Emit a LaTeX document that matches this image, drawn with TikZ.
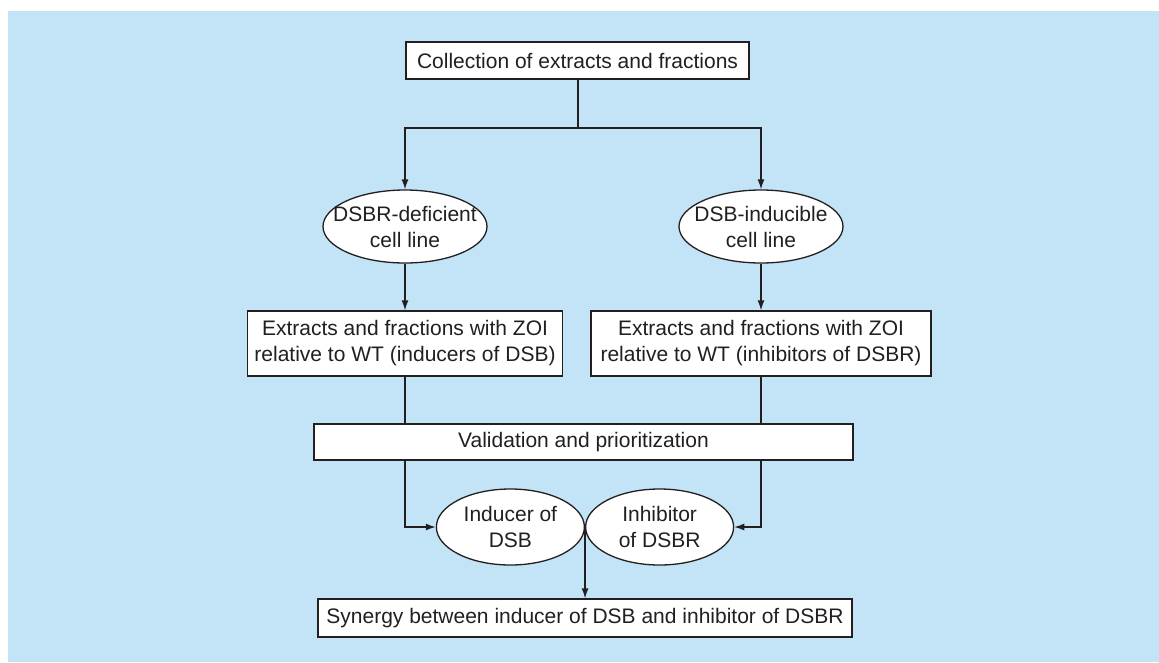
\documentclass[tikz,border=0pt]{standalone}
\usepackage{fontspec}
\setmainfont{Liberation Sans}
\usetikzlibrary{shapes.geometric,arrows.meta}
\definecolor{panelblue}{HTML}{C2E4F6}
\definecolor{inkgray}{HTML}{231F20}

\begin{document}
\begin{tikzpicture}[x=1pt,y=-1pt,
  every node/.style={font=\fontsize{21}{26}\selectfont, text=inkgray},
  box/.style={draw=inkgray, fill=white, line width=1.3pt, inner sep=0pt, align=center},
  blob/.style={ellipse, draw=inkgray, fill=white, line width=1.3pt, inner xsep=-14pt, inner ysep=2pt, align=center},
  link/.style={draw=inkgray, line width=1.3pt},
  arr/.style={link, -{Latex[length=10pt,width=7pt]}}]

  \useasboundingbox (0,0) rectangle (1159,662);
  \fill[panelblue] (8,11) rectangle (1159,662);

  % top of the chart
  \node[box, minimum width=343pt, minimum height=37pt] (collect) at (577.5,60.5) {Collection of extracts and fractions};
  \coordinate (split) at (578,128);

  % the two screens
  \node[blob, minimum width=164pt, minimum height=73pt] (deficient) at (405,226.5) {DSBR-deficient\\cell line};
  \node[blob, minimum width=164pt, minimum height=73pt] (inducible) at (761,226.5) {DSB-inducible\\cell line};

  \node[box, minimum width=315pt, minimum height=65pt] (zoiA) at (405,343.5) {Extracts and fractions with ZOI\\relative to WT (inducers of DSB)};
  \node[box, minimum width=340pt, minimum height=65pt] (zoiB) at (761,343.5) {Extracts and fractions with ZOI\\relative to WT (inhibitors of DSBR)};

  \node[box, minimum width=539pt, minimum height=36pt] (valid) at (583.5,442) {Validation and prioritization};

  % hits
  \node[blob, minimum width=148pt, minimum height=76pt] (inducer) at (510.4,527) {Inducer of\\DSB};
  \node[blob, minimum width=148pt, minimum height=76pt] (inhibitor) at (659.6,527) {Inhibitor\\of DSBR};

  \node[box, minimum width=534pt, minimum height=38pt] (synergy) at (585,618) {Synergy between inducer of DSB and inhibitor of DSBR};

  % connectors
  \draw[link] (collect.south -| split) -- (split);
  \draw[arr] (split) -| (deficient);
  \draw[arr] (split) -| (inducible);
  \draw[arr] (deficient) -- (zoiA);
  \draw[arr] (inducible) -- (zoiB);
  \draw[link] (zoiA) -- (zoiA |- valid.north);
  \draw[link] (zoiB) -- (zoiB |- valid.north);
  \draw[arr] (valid.south -| zoiA) |- (inducer.west);
  \draw[arr] (valid.south -| zoiB) |- (inhibitor.east);
  \draw[arr] (inducer.east) -- (synergy.north -| inducer.east);

\end{tikzpicture}
\end{document}
